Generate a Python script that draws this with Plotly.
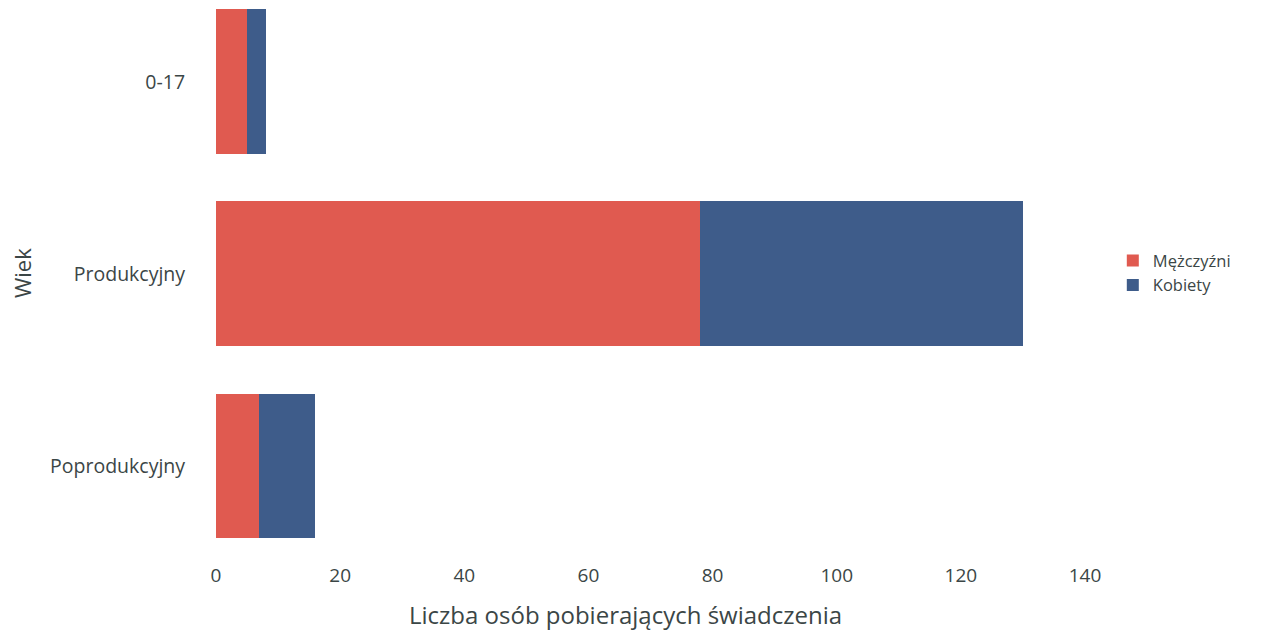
import plotly.graph_objects as go

categories = ["Poprodukcyjny", "Produkcyjny", "0-17"]
men = [7, 78, 5]
women = [9, 52, 3]
series_names = ["Mężczyźni", "Kobiety"]
x_ticks = [0, 20, 40, 60, 80, 100, 120, 140]

red = "#E05A50"
blue = "#3E5C8A"
txt = "#3b4646"
font_family = "Open Sans, Noto Sans, sans-serif"

fig = go.Figure()
fig.add_trace(go.Bar(y=categories, x=men, name=series_names[0], orientation="h",
                     marker=dict(color=red, line=dict(width=0))))
fig.add_trace(go.Bar(y=categories, x=women, name=series_names[1], orientation="h",
                     marker=dict(color=blue, line=dict(width=0))))

fig.update_layout(
    width=1250, height=625,
    barmode="stack", bargap=0.245,
    paper_bgcolor="white", plot_bgcolor="white",
    margin=dict(l=208, r=173, t=0, b=71, autoexpand=False),
    font=dict(family=font_family, color=txt, size=20),
    showlegend=True,
    legend=dict(x=1.032, y=0.522, xanchor="left", yanchor="middle",
                traceorder="normal", font=dict(size=16.5, color=txt),
                itemwidth=30, tracegroupgap=0),
    xaxis=dict(range=[0, 140], tickvals=x_ticks, showgrid=False, zeroline=False,
               showline=False, ticks="", tickfont=dict(size=19, color=txt),
               automargin=False),
    yaxis=dict(type="category", categoryorder="array", categoryarray=categories,
               range=[-0.5, 2.385], showgrid=False, zeroline=False, showline=False,
               ticks="outside", ticklen=26, tickcolor="rgba(0,0,0,0)",
               tickfont=dict(size=19.5, color=txt), automargin=False),
    annotations=[
        dict(text="Wiek", textangle=-90, xref="paper", yref="paper",
             x=-0.2232, y=0.5217, xanchor="center", yanchor="middle",
             borderpad=0, showarrow=False, font=dict(size=22, color=txt)),
        dict(text="Liczba osób pobierających świadczenia", xref="paper", yref="paper",
             x=0.4707, y=-0.0939, xanchor="center", yanchor="middle",
             borderpad=0, showarrow=False, font=dict(size=24, color=txt)),
    ],
)

fig.write_html("out.html")
